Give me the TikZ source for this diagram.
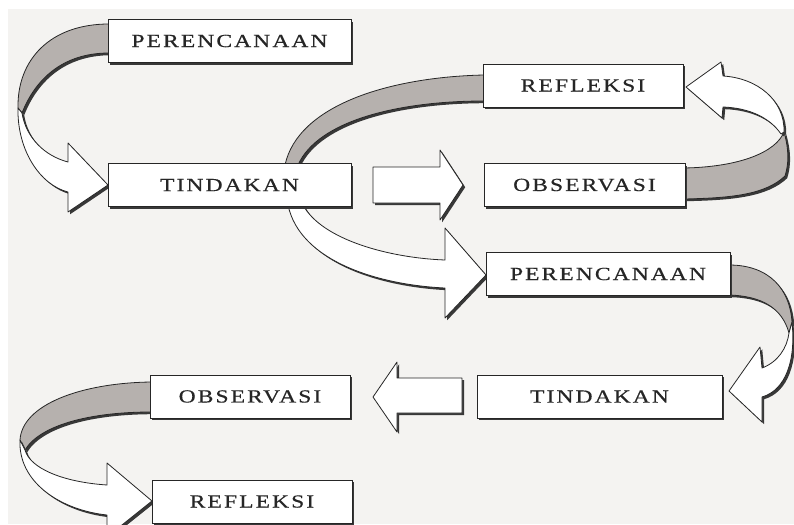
\documentclass[tikz,border=0pt]{standalone}
\usepackage{fontspec}
\setmainfont{Liberation Serif}
\newfontfamily\boxfont[LetterSpace=9,FakeBold=0.5]{Liberation Serif}
\newcommand{\widetext}[1]{\scalebox{1.27}[1]{#1}}
\usetikzlibrary{shadows}
\definecolor{bg}{RGB}{244,243,241}
\definecolor{bandgray}{RGB}{182,177,174}
\definecolor{ink}{RGB}{38,38,38}
\begin{document}
\begin{tikzpicture}[x=1pt,y=-1pt,
  shdw/.style={drop shadow={shadow xshift=2.2pt,shadow yshift=-2.2pt,fill=black!78,opacity=1}},
  box/.style={draw=ink,line width=0.9pt,fill=white,inner sep=0pt,minimum height=43pt,
    font=\boxfont\fontsize{18.5}{20}\selectfont,text=ink,shdw},
  ribbon/.style={draw=ink,line width=0.8pt,line join=round},
  bandshape/.style={ribbon,fill=bandgray,shdw},
  whiteshape/.style={ribbon,fill=white,shdw}]
% background
\fill[white] (0,0) rectangle (794,524);
\fill[bg] (8,9) rectangle (794,524);
\useasboundingbox (0,0) rectangle (794,524);

% box centres
\path
  (229.5,41)  coordinate (cp1)
  (229.5,185) coordinate (ct1)
  (583,85.5)  coordinate (cr1)
  (584.5,185) coordinate (co1)
  (608,274)   coordinate (cp2)
  (599.5,396.5) coordinate (ct2)
  (250,396.5) coordinate (co2)
  (252,501.5) coordinate (cr2);

% C2: Tindakan (behind) -> Refleksi, gray back band
\path[bandshape] (285,165) .. controls (298,105) and (390,77) .. (484,75)
  -- (484,101) .. controls (400,101) and (318,120) .. (298,165) -- cycle;

% C1: Perencanaan -> Tindakan
\path[bandshape] (109,24) .. controls (50,24) and (17,60) .. (18,108)
  -- (22,113) .. controls (35,80) and (62,53) .. (109,53) -- cycle;
\path[whiteshape] (18,108) .. controls (17,150) and (40,185) .. (68,192)
  -- (68,212) -- (108,185) -- (68,143) -- (68,162)
  .. controls (45,156) and (26,138) .. (22,113) -- cycle;

% C3: Tindakan -> Perencanaan (2)
\path[whiteshape] (288,205) .. controls (300,262) and (380,285) .. (445,288)
  -- (445,318) -- (486,275) -- (445,228) -- (445,260)
  .. controls (390,258) and (322,240) .. (303,205) -- cycle;

% C4: Observasi -> Refleksi
\path[bandshape] (684,168) .. controls (740,167) and (776,152) .. (784,132)
  .. controls (789,150) and (789,163) .. (785,176)
  .. controls (765,195) and (730,198) .. (684,199) -- cycle;
\path[whiteshape] (784,132) .. controls (785,100) and (757,78) .. (723,76)
  -- (721,62) -- (686,87) -- (722,118) -- (723,107)
  .. controls (750,108) and (770,118) .. (781,134) -- cycle;

% C5: Perencanaan (2) -> Tindakan (2)
\path[bandshape] (729,265) .. controls (770,265) and (790,290) .. (792,322)
  -- (789,333) .. controls (782,308) and (762,296) .. (729,295) -- cycle;
\path[whiteshape] (792,322) .. controls (796,360) and (786,390) .. (762,397)
  -- (762,422) -- (729,391) -- (760,347) -- (762,368)
  .. controls (778,362) and (787,348) .. (789,333) -- cycle;

% C6: Observasi (2) -> Refleksi (2)
\path[bandshape] (151,382) .. controls (80,383) and (22,405) .. (20,440)
  -- (25,450) .. controls (40,425) and (90,412) .. (151,412) -- cycle;
\path[whiteshape] (20,440) .. controls (18,482) and (60,510) .. (107,515)
  -- (107,537) -- (152,501) -- (107,463) -- (107,485)
  .. controls (62,482) and (30,468) .. (25,450) -- cycle;

% straight block arrows
\path[whiteshape] (373,167) -- (440,167) -- (440,150) -- (463,185)
  -- (440,220) -- (440,203) -- (373,203) -- cycle;
\path[whiteshape] (462,378) -- (397,378) -- (397,362) -- (373,397)
  -- (397,432) -- (397,413) -- (462,413) -- cycle;

% boxes
\node[box,minimum width=243pt] (p1) at (cp1) {\widetext{PERENCANAAN}};
\node[box,minimum width=243pt] (t1) at (ct1) {\widetext{TINDAKAN}};
\node[box,minimum width=200pt] (r1) at (cr1) {\widetext{REFLEKSI}};
\node[box,minimum width=201pt] (o1) at (co1) {\widetext{OBSERVASI}};
\node[box,minimum width=244pt] (p2) at (cp2) {\widetext{PERENCANAAN}};
\node[box,minimum width=245pt] (t2) at (ct2) {\widetext{TINDAKAN}};
\node[box,minimum width=200pt] (o2) at (co2) {\widetext{OBSERVASI}};
\node[box,minimum width=200pt] (r2) at (cr2) {\widetext{REFLEKSI}};
\end{tikzpicture}
\end{document}
